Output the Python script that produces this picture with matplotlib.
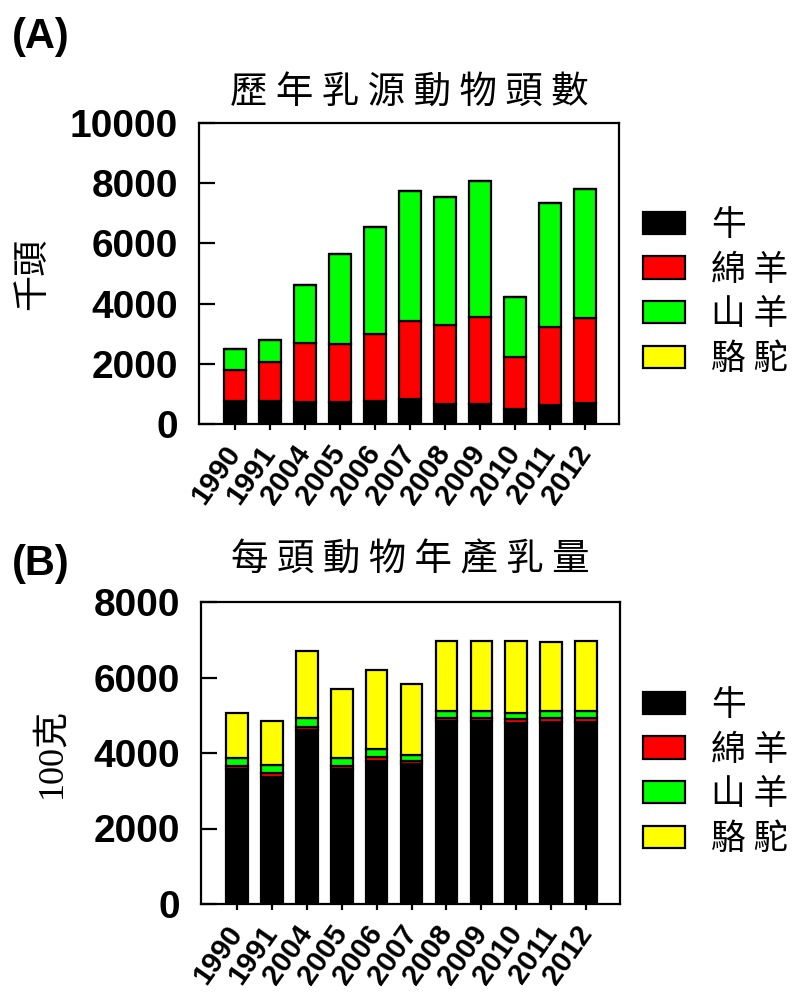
import numpy as np
import matplotlib
matplotlib.use("Agg")
import matplotlib.pyplot as plt

# years on the x axis
years = ["1990", "1991", "2004", "2005", "2006", "2007", "2008", "2009", "2010", "2011", "2012"]

# (A) head counts, thousand head
heads_cattle = [770, 770, 720, 720, 770, 840, 660, 660, 510, 620, 700]
heads_sheep = [1020, 1280, 1980, 1930, 2220, 2590, 2620, 2900, 1710, 2610, 2810]
heads_goat = [690, 740, 1920, 2990, 3540, 4300, 4250, 4510, 2000, 4110, 4300]
heads_camel = [0, 0, 0, 0, 0, 0, 0, 0, 0, 0, 0]

# (B) yearly milk per head, 100 g
milk_cattle = [3580, 3370, 4610, 3580, 3800, 3710, 4860, 4860, 4800, 4830, 4830]
milk_sheep = [80, 90, 90, 80, 90, 90, 80, 80, 90, 90, 90]
milk_goat = [220, 220, 220, 220, 210, 150, 180, 180, 180, 180, 180]
milk_camel = [1190, 1180, 1790, 1820, 2100, 1880, 1860, 1860, 1900, 1850, 1870]

labels = ["牛", "綿 羊", "山 羊", "駱 駝"]
colors = ["#000000", "#ff0000", "#00ff00", "#ffff00"]

CJK = ["Noto Sans CJK TC", "DejaVu Sans"]
NUM = "Liberation Sans"

fig = plt.figure(figsize=(7.99, 9.94), dpi=100)
W, H = 799.0, 994.0


def panel(rect, series, ymax, title, ylabel, ylab_family, ylab_pad, tag, tag_xy, title_y, leg_top):
    ax = fig.add_axes(rect)
    x = np.arange(len(years))
    bottom = np.zeros(len(years))
    for vals, c, lab in zip(series, colors, labels):
        ax.bar(x, vals, width=0.62, bottom=bottom, color=c, edgecolor="black",
               linewidth=1.6, label=lab)
        bottom = bottom + np.array(vals)
    ax.set_xlim(-1.03, 10.97)
    ax.set_ylim(0, ymax)
    ax.set_yticks(np.arange(0, ymax + 1, 2000))
    ax.set_xticks(x)
    ax.set_xticklabels(years, rotation=55, ha="right", va="center",
                       rotation_mode="anchor", fontsize=21, fontweight="bold",
                       family=NUM)
    for t in ax.get_yticklabels():
        t.set_fontsize(28)
        t.set_fontweight("bold")
        t.set_family(NUM)
    ax.tick_params(axis="y", direction="in", length=11.5, width=1.6, pad=15)
    ax.tick_params(axis="x", direction="out", length=4.5, width=1.6, pad=13)
    for s in ax.spines.values():
        s.set_linewidth(1.6)
    ax.set_ylabel(ylabel, fontsize=26, family=ylab_family, labelpad=ylab_pad)

    fig.text(tag_xy[0] / W, 1 - tag_xy[1] / H, tag, fontsize=30, fontweight="bold",
             family=NUM, ha="left", va="center")
    fig.text((rect[0] + rect[2] / 2), 1 - title_y / H, title, fontsize=27,
             family=CJK, ha="center", va="center")

    ax.legend(loc="upper left", bbox_to_anchor=(643 / W, 1 - leg_top / H),
              bbox_transform=fig.transFigure, frameon=False, borderpad=0,
              borderaxespad=0, handlelength=1.2, handleheight=0.62,
              handletextpad=0.75, labelspacing=0.28,
              prop={"family": CJK, "size": 25})
    return ax


axA = panel([199 / W, 1 - 424 / H, 420 / W, 301 / H],
            [heads_cattle, heads_sheep, heads_goat, heads_camel], 10000,
            "歷 年 乳 源 動 物 頭 數", "千頭", CJK, 14, "(A)", (12, 37), 92, 208)
axB = panel([201 / W, 1 - 904 / H, 419 / W, 302 / H],
            [milk_cattle, milk_sheep, milk_goat, milk_camel], 8000,
            "每 頭 動 物 年 產 乳 量", "100克", ["Liberation Serif", "Noto Sans CJK TC"], 18,
            "(B)", (12, 564), 560, 688)

fig.savefig("out.png", dpi=100, facecolor="white")
